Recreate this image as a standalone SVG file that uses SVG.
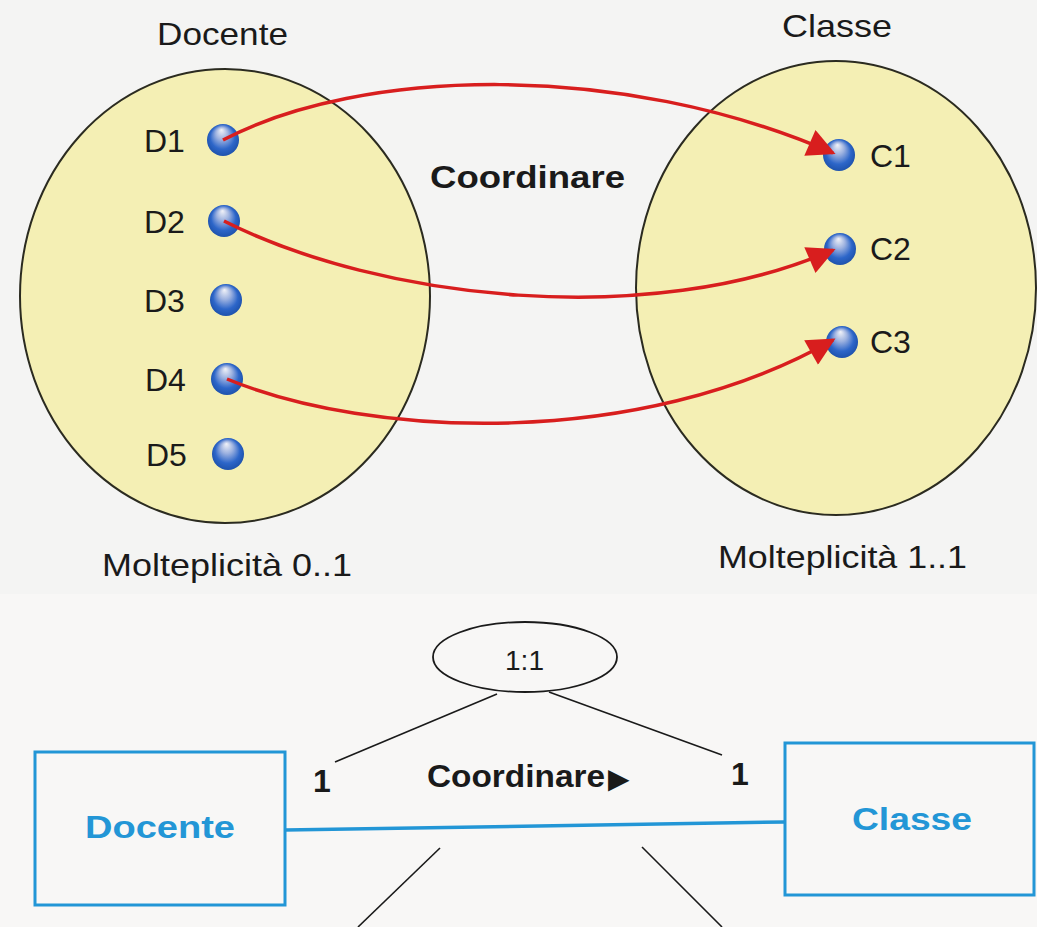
<svg xmlns="http://www.w3.org/2000/svg" width="1037" height="927" viewBox="0 0 1037 927">
  <style>
    text { font-family: "Liberation Sans", Arial, Helvetica, sans-serif; fill: #1a1a1a; }
    .lbl { font-size: 32px; }
    .bold { font-weight: bold; }
    .blue { fill: #2396d6; font-weight: bold; font-size: 32px; }
    .set { fill: #f4efb4; stroke: #2b2b20; stroke-width: 2; }
    .dot { fill: url(#ball); }
    .arrow { fill: none; stroke: #d81e1e; stroke-width: 3.5; marker-end: url(#ah); }
    .thin { stroke: #1a1a1a; stroke-width: 1.6; fill: none; }
    .box { fill: none; stroke: #2396d6; stroke-width: 3; }
  </style>
  <defs>
    <radialGradient id="ball" cx="0.5" cy="0.5" r="0.55" fx="0.45" fy="0.18">
      <stop offset="0" stop-color="#f2f3f8"/>
      <stop offset="0.35" stop-color="#9db2e0"/>
      <stop offset="0.7" stop-color="#2d66c9"/>
      <stop offset="1" stop-color="#1b4ea6"/>
    </radialGradient>
    <marker id="ah" viewBox="0 0 10 10" refX="9" refY="5" markerWidth="9" markerHeight="8" markerUnits="strokeWidth" orient="auto">
      <path d="M0,0 L10,5 L0,10 z" fill="#d81e1e"/>
    </marker>
  </defs>

  <rect x="0" y="0" width="1037" height="927" fill="#f4f4f3"/>
  <rect x="0" y="594" width="1037" height="333" fill="#f8f7f6"/>

  <g id="set-docente">
    <ellipse class="set" cx="225" cy="296" rx="205" ry="227"/>
    <text class="lbl" x="157" y="45" textLength="131" lengthAdjust="spacingAndGlyphs">Docente</text>
    <text class="lbl" x="102" y="576" textLength="250" lengthAdjust="spacingAndGlyphs">Molteplicità 0..1</text>
  </g>
  <g id="set-classe">
    <ellipse class="set" cx="836" cy="288" rx="200" ry="227"/>
    <text class="lbl" x="782" y="37" textLength="110" lengthAdjust="spacingAndGlyphs">Classe</text>
    <text class="lbl" x="718" y="568" textLength="249" lengthAdjust="spacingAndGlyphs">Molteplicità 1..1</text>
  </g>

  <g id="D1"><circle class="dot" cx="223" cy="140" r="16"/><text class="lbl" x="144" y="152">D1</text></g>
  <g id="D2"><circle class="dot" cx="224" cy="221" r="16"/><text class="lbl" x="144" y="233">D2</text></g>
  <g id="D3"><circle class="dot" cx="226" cy="300" r="16"/><text class="lbl" x="144" y="312">D3</text></g>
  <g id="D4"><circle class="dot" cx="227" cy="379" r="16"/><text class="lbl" x="145" y="391">D4</text></g>
  <g id="D5"><circle class="dot" cx="228" cy="454" r="16"/><text class="lbl" x="146" y="466">D5</text></g>

  <g id="C1"><circle class="dot" cx="839" cy="155" r="16"/><text class="lbl" x="870" y="167">C1</text></g>
  <g id="C2"><circle class="dot" cx="840" cy="249" r="16"/><text class="lbl" x="870" y="260">C2</text></g>
  <g id="C3"><circle class="dot" cx="842" cy="342" r="16"/><text class="lbl" x="870" y="353">C3</text></g>

  <text id="rel-name" class="lbl bold" x="430" y="188" font-size="33" textLength="195" lengthAdjust="spacingAndGlyphs">Coordinare</text>

  <g id="connectors">
    <path class="arrow" d="M223,140 C360,68 620,60 833,153"/>
    <path class="arrow" d="M224,221 C380,300 650,330 833,250"/>
    <path class="arrow" d="M227,379 C370,438 640,450 833,340"/>

    <line class="thin" x1="497" y1="694" x2="335" y2="762"/>
    <line class="thin" x1="549" y1="692" x2="722" y2="755"/>
    <line class="thin" x1="440" y1="848" x2="358" y2="927"/>
    <line class="thin" x1="642" y1="847" x2="722" y2="927"/>
    <line x1="285" y1="830" x2="785" y2="822" stroke="#2396d6" stroke-width="3.5"/>
    <text class="bold" x="322" y="792" font-size="32" text-anchor="middle">1</text>
    <text class="bold" x="740" y="785" font-size="32" text-anchor="middle">1</text>
    <text class="bold" x="427" y="787" font-size="32" textLength="178" lengthAdjust="spacingAndGlyphs">Coordinare</text>
    <text x="608" y="788" font-size="28" style="font-family: 'DejaVu Sans', sans-serif">▶</text>
  </g>

  <g id="multiplicity-1-1">
    <ellipse cx="525" cy="657" rx="92" ry="35" fill="none" stroke="#1a1a1a" stroke-width="1.8"/>
    <text x="505" y="670" font-size="28" textLength="39" lengthAdjust="spacingAndGlyphs">1:1</text>
  </g>

  <g id="entity-docente">
    <rect class="box" x="35" y="752" width="250" height="153"/>
    <text class="blue" x="85" y="838" textLength="150" lengthAdjust="spacingAndGlyphs">Docente</text>
  </g>
  <g id="entity-classe">
    <rect class="box" x="785" y="743" width="249" height="152"/>
    <text class="blue" x="852" y="830" textLength="120" lengthAdjust="spacingAndGlyphs">Classe</text>
  </g>
</svg>
